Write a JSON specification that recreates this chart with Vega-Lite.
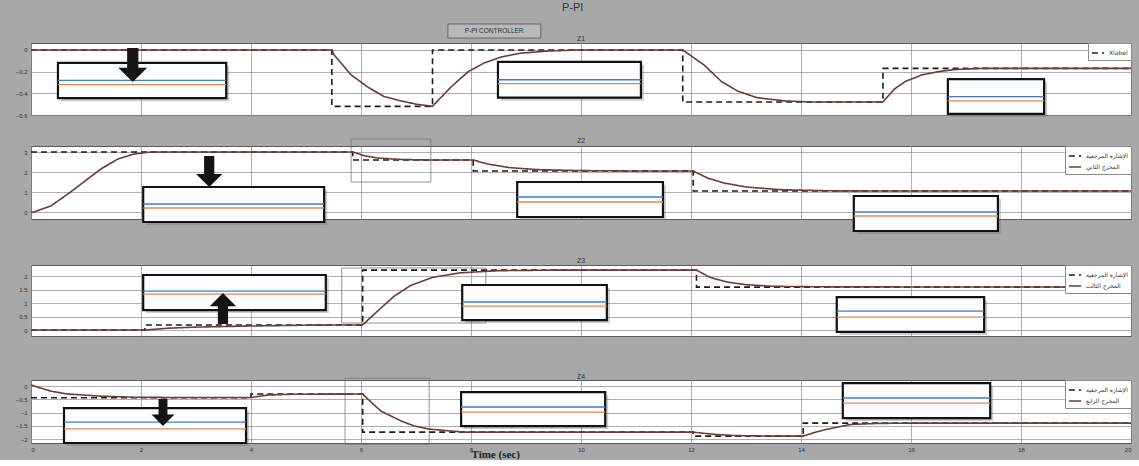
{
"$schema": "https://vega.github.io/schema/vega-lite/v6.json",
"background": "#a8a8a8",
"padding": {"left": 10, "right": 9, "top": 2, "bottom": 0},
"autosize": {"type": "pad"},
"title": {"text": "P-PI", "fontSize": 11, "offset": 10, "anchor": "middle", "color": "#333", "font": "Liberation Sans", "fontWeight": "normal"},
"spacing": 0,
"resolve": {"scale": {"color": "independent", "strokeDash": "independent"}},
"datasets": {
"lines": [
{"p":1,"s":"Xlabel","t":0,"v":0},{"p":1,"s":"Xlabel","t":5.47,"v":0},{"p":1,"s":"Xlabel","t":5.47,"v":-0.52},{"p":1,"s":"Xlabel","t":7.3,"v":-0.52},{"p":1,"s":"Xlabel","t":7.3,"v":0},{"p":1,"s":"Xlabel","t":11.85,"v":0},{"p":1,"s":"Xlabel","t":11.85,"v":-0.48},{"p":1,"s":"Xlabel","t":15.49,"v":-0.48},{"p":1,"s":"Xlabel","t":15.49,"v":-0.17},{"p":1,"s":"Xlabel","t":20,"v":-0.17},
{"p":1,"s":"المخرج الأول","t":0,"v":0},{"p":1,"s":"المخرج الأول","t":5.47,"v":0},{"p":1,"s":"المخرج الأول","t":5.51,"v":-0.045},{"p":1,"s":"المخرج الأول","t":5.82,"v":-0.23},{"p":1,"s":"المخرج الأول","t":6.13,"v":-0.345},{"p":1,"s":"المخرج الأول","t":6.42,"v":-0.43},{"p":1,"s":"المخرج الأول","t":6.73,"v":-0.47},{"p":1,"s":"المخرج الأول","t":7.0,"v":-0.5},{"p":1,"s":"المخرج الأول","t":7.3,"v":-0.52},{"p":1,"s":"المخرج الأول","t":7.64,"v":-0.34},{"p":1,"s":"المخرج الأول","t":7.95,"v":-0.2},{"p":1,"s":"المخرج الأول","t":8.24,"v":-0.12},{"p":1,"s":"المخرج الأول","t":8.55,"v":-0.065},{"p":1,"s":"المخرج الأول","t":8.9,"v":-0.03},{"p":1,"s":"المخرج الأول","t":9.4,"v":-0.01},{"p":1,"s":"المخرج الأول","t":10,"v":0},{"p":1,"s":"المخرج الأول","t":11.85,"v":0},{"p":1,"s":"المخرج الأول","t":12.24,"v":-0.14},{"p":1,"s":"المخرج الأول","t":12.55,"v":-0.29},{"p":1,"s":"المخرج الأول","t":12.85,"v":-0.38},{"p":1,"s":"المخرج الأول","t":13.2,"v":-0.44},{"p":1,"s":"المخرج الأول","t":13.7,"v":-0.47},{"p":1,"s":"المخرج الأول","t":14.2,"v":-0.48},{"p":1,"s":"المخرج الأول","t":15.49,"v":-0.48},{"p":1,"s":"المخرج الأول","t":15.7,"v":-0.36},{"p":1,"s":"المخرج الأول","t":15.9,"v":-0.29},{"p":1,"s":"المخرج الأول","t":16.2,"v":-0.23},{"p":1,"s":"المخرج الأول","t":16.5,"v":-0.2},{"p":1,"s":"المخرج الأول","t":16.8,"v":-0.18},{"p":1,"s":"المخرج الأول","t":17.3,"v":-0.17},{"p":1,"s":"المخرج الأول","t":20,"v":-0.17},
{"p":2,"s":"الإشارة المرجعية","t":0,"v":3},{"p":2,"s":"الإشارة المرجعية","t":5.85,"v":3},{"p":2,"s":"الإشارة المرجعية","t":5.85,"v":2.6},{"p":2,"s":"الإشارة المرجعية","t":8.04,"v":2.6},{"p":2,"s":"الإشارة المرجعية","t":8.04,"v":2.05},{"p":2,"s":"الإشارة المرجعية","t":12.04,"v":2.05},{"p":2,"s":"الإشارة المرجعية","t":12.04,"v":1.05},{"p":2,"s":"الإشارة المرجعية","t":20,"v":1.05},
{"p":2,"s":"المخرج الثاني","t":0,"v":0},{"p":2,"s":"المخرج الثاني","t":0.05,"v":0},{"p":2,"s":"المخرج الثاني","t":0.36,"v":0.3},{"p":2,"s":"المخرج الثاني","t":0.67,"v":0.9},{"p":2,"s":"المخرج الثاني","t":0.96,"v":1.5},{"p":2,"s":"المخرج الثاني","t":1.27,"v":2.15},{"p":2,"s":"المخرج الثاني","t":1.58,"v":2.65},{"p":2,"s":"المخرج الثاني","t":1.87,"v":2.9},{"p":2,"s":"المخرج الثاني","t":2.18,"v":3},{"p":2,"s":"المخرج الثاني","t":5.85,"v":3},{"p":2,"s":"المخرج الثاني","t":6.05,"v":2.82},{"p":2,"s":"المخرج الثاني","t":6.3,"v":2.7},{"p":2,"s":"المخرج الثاني","t":6.7,"v":2.63},{"p":2,"s":"المخرج الثاني","t":7.2,"v":2.6},{"p":2,"s":"المخرج الثاني","t":8.04,"v":2.6},{"p":2,"s":"المخرج الثاني","t":8.3,"v":2.4},{"p":2,"s":"المخرج الثاني","t":8.7,"v":2.22},{"p":2,"s":"المخرج الثاني","t":9.2,"v":2.12},{"p":2,"s":"المخرج الثاني","t":10,"v":2.07},{"p":2,"s":"المخرج الثاني","t":11,"v":2.05},{"p":2,"s":"المخرج الثاني","t":12.04,"v":2.05},{"p":2,"s":"المخرج الثاني","t":12.3,"v":1.7},{"p":2,"s":"المخرج الثاني","t":12.6,"v":1.45},{"p":2,"s":"المخرج الثاني","t":13,"v":1.25},{"p":2,"s":"المخرج الثاني","t":13.6,"v":1.12},{"p":2,"s":"المخرج الثاني","t":14.5,"v":1.06},{"p":2,"s":"المخرج الثاني","t":15.5,"v":1.05},{"p":2,"s":"المخرج الثاني","t":20,"v":1.05},
{"p":3,"s":"الإشارة المرجعية","t":0,"v":0},{"p":3,"s":"الإشارة المرجعية","t":2.07,"v":0},{"p":3,"s":"الإشارة المرجعية","t":2.07,"v":0.19},{"p":3,"s":"الإشارة المرجعية","t":6.03,"v":0.19},{"p":3,"s":"الإشارة المرجعية","t":6.03,"v":2.22},{"p":3,"s":"الإشارة المرجعية","t":12.1,"v":2.22},{"p":3,"s":"الإشارة المرجعية","t":12.1,"v":1.59},{"p":3,"s":"الإشارة المرجعية","t":20,"v":1.59},
{"p":3,"s":"المخرج الثالث","t":0,"v":0},{"p":3,"s":"المخرج الثالث","t":2.07,"v":0},{"p":3,"s":"المخرج الثالث","t":2.5,"v":0.07},{"p":3,"s":"المخرج الثالث","t":3,"v":0.11},{"p":3,"s":"المخرج الثالث","t":4,"v":0.15},{"p":3,"s":"المخرج الثالث","t":5,"v":0.18},{"p":3,"s":"المخرج الثالث","t":6.03,"v":0.19},{"p":3,"s":"المخرج الثالث","t":6.3,"v":0.7},{"p":3,"s":"المخرج الثالث","t":6.6,"v":1.25},{"p":3,"s":"المخرج الثالث","t":6.9,"v":1.65},{"p":3,"s":"المخرج الثالث","t":7.3,"v":1.95},{"p":3,"s":"المخرج الثالث","t":7.8,"v":2.12},{"p":3,"s":"المخرج الثالث","t":8.5,"v":2.2},{"p":3,"s":"المخرج الثالث","t":9.5,"v":2.22},{"p":3,"s":"المخرج الثالث","t":12.1,"v":2.22},{"p":3,"s":"المخرج الثالث","t":12.35,"v":1.95},{"p":3,"s":"المخرج الثالث","t":12.65,"v":1.78},{"p":3,"s":"المخرج الثالث","t":13,"v":1.68},{"p":3,"s":"المخرج الثالث","t":13.5,"v":1.62},{"p":3,"s":"المخرج الثالث","t":14.5,"v":1.6},{"p":3,"s":"المخرج الثالث","t":20,"v":1.59},
{"p":4,"s":"الإشارة المرجعية","t":0,"v":-0.44},{"p":4,"s":"الإشارة المرجعية","t":4,"v":-0.44},{"p":4,"s":"الإشارة المرجعية","t":4,"v":-0.3},{"p":4,"s":"الإشارة المرجعية","t":6.03,"v":-0.3},{"p":4,"s":"الإشارة المرجعية","t":6.03,"v":-1.74},{"p":4,"s":"الإشارة المرجعية","t":12.04,"v":-1.74},{"p":4,"s":"الإشارة المرجعية","t":12.04,"v":-1.89},{"p":4,"s":"الإشارة المرجعية","t":14.04,"v":-1.89},{"p":4,"s":"الإشارة المرجعية","t":14.04,"v":-1.4},{"p":4,"s":"الإشارة المرجعية","t":20,"v":-1.4},
{"p":4,"s":"المخرج الرابع","t":0,"v":0.04},{"p":4,"s":"المخرج الرابع","t":0.36,"v":-0.19},{"p":4,"s":"المخرج الرابع","t":0.67,"v":-0.3},{"p":4,"s":"المخرج الرابع","t":1.27,"v":-0.38},{"p":4,"s":"المخرج الرابع","t":1.87,"v":-0.42},{"p":4,"s":"المخرج الرابع","t":2.5,"v":-0.43},{"p":4,"s":"المخرج الرابع","t":4,"v":-0.43},{"p":4,"s":"المخرج الرابع","t":4.3,"v":-0.34},{"p":4,"s":"المخرج الرابع","t":4.7,"v":-0.31},{"p":4,"s":"المخرج الرابع","t":6.03,"v":-0.3},{"p":4,"s":"المخرج الرابع","t":6.18,"v":-0.6},{"p":4,"s":"المخرج الرابع","t":6.36,"v":-0.94},{"p":4,"s":"المخرج الرابع","t":6.73,"v":-1.32},{"p":4,"s":"المخرج الرابع","t":6.96,"v":-1.5},{"p":4,"s":"المخرج الرابع","t":7.22,"v":-1.62},{"p":4,"s":"المخرج الرابع","t":7.87,"v":-1.74},{"p":4,"s":"المخرج الرابع","t":12.04,"v":-1.74},{"p":4,"s":"المخرج الرابع","t":12.4,"v":-1.82},{"p":4,"s":"المخرج الرابع","t":12.8,"v":-1.87},{"p":4,"s":"المخرج الرابع","t":13.5,"v":-1.89},{"p":4,"s":"المخرج الرابع","t":14.04,"v":-1.89},{"p":4,"s":"المخرج الرابع","t":14.25,"v":-1.75},{"p":4,"s":"المخرج الرابع","t":14.5,"v":-1.62},{"p":4,"s":"المخرج الرابع","t":14.9,"v":-1.45},{"p":4,"s":"المخرج الرابع","t":15.4,"v":-1.41},{"p":4,"s":"المخرج الرابع","t":16,"v":-1.4},{"p":4,"s":"المخرج الرابع","t":20,"v":-1.4}
],
"ins": [
{"p":1,"t":0.49,"t2":3.55,"v":-0.12,"v2":-0.445},{"p":1,"t":8.49,"t2":11.09,"v":-0.11,"v2":-0.44},{"p":1,"t":16.67,"t2":18.42,"v":-0.27,"v2":-0.59},
{"p":2,"t":2.04,"t2":5.33,"v":1.25,"v2":-0.5},{"p":2,"t":8.84,"t2":11.49,"v":1.5,"v2":-0.25},{"p":2,"t":14.96,"t2":17.58,"v":0.8,"v2":-0.95},
{"p":3,"t":2.04,"t2":5.36,"v":2.04,"v2":0.74},{"p":3,"t":7.84,"t2":10.47,"v":1.67,"v2":0.37},{"p":3,"t":14.65,"t2":17.33,"v":1.22,"v2":-0.07},
{"p":4,"t":0.6,"t2":3.91,"v":-0.83,"v2":-2.15},{"p":4,"t":7.82,"t2":10.44,"v":-0.23,"v2":-1.51},{"p":4,"t":14.76,"t2":17.44,"v":0.11,"v2":-1.21}
],
"hl": [
{"p":1,"k":"b","t":0.49,"t2":3.55,"v":-0.28},{"p":1,"k":"o","t":0.49,"t2":3.55,"v":-0.32},
{"p":1,"k":"b","t":8.49,"t2":11.09,"v":-0.275},{"p":1,"k":"o","t":8.49,"t2":11.09,"v":-0.31},
{"p":1,"k":"b","t":16.67,"t2":18.42,"v":-0.43},{"p":1,"k":"o","t":16.67,"t2":18.42,"v":-0.47},
{"p":2,"k":"b","t":2.04,"t2":5.33,"v":0.4},{"p":2,"k":"o","t":2.04,"t2":5.33,"v":0.2},
{"p":2,"k":"b","t":8.84,"t2":11.49,"v":0.75},{"p":2,"k":"o","t":8.84,"t2":11.49,"v":0.5},
{"p":2,"k":"b","t":14.96,"t2":17.58,"v":0.0},{"p":2,"k":"o","t":14.96,"t2":17.58,"v":-0.2},
{"p":3,"k":"b","t":2.04,"t2":5.36,"v":1.44},{"p":3,"k":"o","t":2.04,"t2":5.36,"v":1.33},
{"p":3,"k":"b","t":7.84,"t2":10.47,"v":1.04},{"p":3,"k":"o","t":7.84,"t2":10.47,"v":0.89},
{"p":3,"k":"b","t":14.65,"t2":17.33,"v":0.7},{"p":3,"k":"o","t":14.65,"t2":17.33,"v":0.48},
{"p":4,"k":"b","t":0.6,"t2":3.91,"v":-1.36},{"p":4,"k":"o","t":0.6,"t2":3.91,"v":-1.62},
{"p":4,"k":"b","t":7.82,"t2":10.44,"v":-0.79},{"p":4,"k":"o","t":7.82,"t2":10.44,"v":-0.98},
{"p":4,"k":"b","t":14.76,"t2":17.44,"v":-0.45},{"p":4,"k":"o","t":14.76,"t2":17.44,"v":-0.64}
],
"zr": [
{"p":2,"t":5.82,"t2":7.27,"v":3.65,"v2":1.5},
{"p":3,"t":5.65,"t2":8.27,"v":2.3,"v2":0.26},
{"p":4,"t":5.71,"t2":7.24,"v":0.3,"v2":-2.2}
],
"arrows": [
{"p":1,"t":1.85,"v":-0.14},{"p":2,"t":3.24,"v":2.02},{"p":3,"t":3.49,"v":0.8},{"p":4,"t":2.4,"v":-1.0}
],
"ctl": [{"t":7.58,"t2":9.27,"v":0.239,"v2":0.11}],
"ctltext": [{"t":8.42,"v":0.175,"label":"P-PI CONTROLLER"}]
},
"vconcat": [
{
"title": {"text": "Z1", "offset": -18},
"width": 1100, "height": 72,
"encoding": {
"x": {"field": "t", "type": "quantitative", "scale": {"domain": [0, 20], "nice": false, "zero": false}, "axis": {"values": [0,2,4,6,8,10,12,14,16,18,20], "labelOpacity": 0, "minExtent": 20, "maxExtent": 20, "title": null}},
"y": {"field": "v", "type": "quantitative", "scale": {"domain": [-0.6, 0.064], "nice": false, "zero": false}, "axis": {"values": [0, -0.2, -0.4, -0.6], "format": "~g", "title": null}}
},
"layer": [
{"data": {"name": "ctl"}, "mark": {"type": "rect", "fill": "#b9b9b9", "stroke": "#555", "strokeWidth": 0.8, "clip": false}, "encoding": {"x2": {"field": "t2"}, "y2": {"field": "v2"}}},
{"data": {"name": "ctltext"}, "mark": {"type": "text", "fontSize": 6.5, "font": "Liberation Sans", "color": "#333", "clip": false}, "encoding": {"text": {"field": "label"}}},
{"data": {"name": "lines"}, "transform": [{"filter": "datum.p==1"}], "mark": {"type": "line", "strokeWidth": 1.6, "clip": false},
 "encoding": {
  "color": {"field": "s", "type": "nominal", "scale": {"domain": ["Xlabel", "المخرج الأول"], "range": ["#1c1c1c", "#6e3a3a"]}, "legend": {"values": ["Xlabel"], "title": null}},
  "strokeDash": {"field": "s", "type": "nominal", "scale": {"domain": ["Xlabel", "المخرج الأول"], "range": [[6, 4], [1, 0]]}, "legend": {"values": ["Xlabel"], "title": null}},
  "order": {"value": null}}},
{"data": {"name": "ins"}, "transform": [{"filter": "datum.p==1"}], "mark": {"type": "rect", "fill": "#6f6f6f", "opacity": 0.35, "xOffset": 3, "x2Offset": 3, "yOffset": 3, "y2Offset": 3, "clip": false}, "encoding": {"x2": {"field": "t2"}, "y2": {"field": "v2"}}},
{"data": {"name": "ins"}, "transform": [{"filter": "datum.p==1"}], "mark": {"type": "rect", "fill": "#fbfdff", "stroke": "#111", "strokeWidth": 2.2, "clip": false}, "encoding": {"x2": {"field": "t2"}, "y2": {"field": "v2"}}},
{"data": {"name": "hl"}, "transform": [{"filter": "datum.p==1 && datum.k=='b'"}], "mark": {"type": "rule", "color": "#3d7cc9", "strokeWidth": 1.3, "clip": false}, "encoding": {"x2": {"field": "t2"}}},
{"data": {"name": "hl"}, "transform": [{"filter": "datum.p==1 && datum.k=='o'"}], "mark": {"type": "rule", "color": "#e8874a", "strokeWidth": 1.3, "clip": false}, "encoding": {"x2": {"field": "t2"}}},
{"data": {"name": "arrows"}, "transform": [{"filter": "datum.p==1"}], "mark": {"type": "point", "shape": "M-0.33,-1L0.33,-1L0.33,0.15L0.85,0.15L0,1L-0.85,0.15L-0.33,0.15Z", "filled": true, "color": "#141414", "opacity": 1, "size": 1156, "clip": false}}
]
},
{
"title": {"text": "Z2", "offset": -5},
"width": 1100, "height": 73,
"encoding": {
"x": {"field": "t", "type": "quantitative", "scale": {"domain": [0, 20], "nice": false, "zero": false}, "axis": {"values": [0,2,4,6,8,10,12,14,16,18,20], "labelOpacity": 0, "minExtent": 36, "maxExtent": 36, "title": null}},
"y": {"field": "v", "type": "quantitative", "scale": {"domain": [-0.35, 3.3], "nice": false, "zero": false}, "axis": {"values": [0, 1, 2, 3], "format": "~g", "title": null}}
},
"layer": [
{"data": {"name": "zr"}, "transform": [{"filter": "datum.p==2"}], "mark": {"type": "rect", "fillOpacity": 0, "stroke": "#777", "strokeWidth": 0.8, "clip": false}, "encoding": {"x2": {"field": "t2"}, "y2": {"field": "v2"}}},
{"data": {"name": "lines"}, "transform": [{"filter": "datum.p==2"}], "mark": {"type": "line", "strokeWidth": 1.6, "clip": false},
 "encoding": {
  "color": {"field": "s", "type": "nominal", "scale": {"domain": ["الإشارة المرجعية", "المخرج الثاني"], "range": ["#1c1c1c", "#6e3a3a"]}, "legend": {"title": null}},
  "strokeDash": {"field": "s", "type": "nominal", "scale": {"domain": ["الإشارة المرجعية", "المخرج الثاني"], "range": [[6, 4], [1, 0]]}, "legend": {"title": null}},
  "order": {"value": null}}},
{"data": {"name": "ins"}, "transform": [{"filter": "datum.p==2"}], "mark": {"type": "rect", "fill": "#6f6f6f", "opacity": 0.35, "xOffset": 3, "x2Offset": 3, "yOffset": 3, "y2Offset": 3, "clip": false}, "encoding": {"x2": {"field": "t2"}, "y2": {"field": "v2"}}},
{"data": {"name": "ins"}, "transform": [{"filter": "datum.p==2"}], "mark": {"type": "rect", "fill": "#fbfdff", "stroke": "#111", "strokeWidth": 2.2, "clip": false}, "encoding": {"x2": {"field": "t2"}, "y2": {"field": "v2"}}},
{"data": {"name": "hl"}, "transform": [{"filter": "datum.p==2 && datum.k=='b'"}], "mark": {"type": "rule", "color": "#3d7cc9", "strokeWidth": 1.3, "clip": false}, "encoding": {"x2": {"field": "t2"}}},
{"data": {"name": "hl"}, "transform": [{"filter": "datum.p==2 && datum.k=='o'"}], "mark": {"type": "rule", "color": "#e8874a", "strokeWidth": 1.3, "clip": false}, "encoding": {"x2": {"field": "t2"}}},
{"data": {"name": "arrows"}, "transform": [{"filter": "datum.p==2"}], "mark": {"type": "point", "shape": "M-0.33,-1L0.33,-1L0.33,0.15L0.85,0.15L0,1L-0.85,0.15L-0.33,0.15Z", "filled": true, "color": "#141414", "opacity": 1, "size": 961, "clip": false}}
]
},
{
"title": {"text": "Z3", "offset": 1},
"width": 1100, "height": 71,
"encoding": {
"x": {"field": "t", "type": "quantitative", "scale": {"domain": [0, 20], "nice": false, "zero": false}, "axis": {"values": [0,2,4,6,8,10,12,14,16,18,20], "labelOpacity": 0, "minExtent": 35, "maxExtent": 35, "title": null}},
"y": {"field": "v", "type": "quantitative", "scale": {"domain": [-0.22, 2.41], "nice": false, "zero": false}, "axis": {"values": [0, 0.5, 1, 1.5, 2], "format": "~g", "title": null}}
},
"layer": [
{"data": {"name": "zr"}, "transform": [{"filter": "datum.p==3"}], "mark": {"type": "rect", "fillOpacity": 0, "stroke": "#777", "strokeWidth": 0.8, "clip": false}, "encoding": {"x2": {"field": "t2"}, "y2": {"field": "v2"}}},
{"data": {"name": "lines"}, "transform": [{"filter": "datum.p==3"}], "mark": {"type": "line", "strokeWidth": 1.6, "clip": false},
 "encoding": {
  "color": {"field": "s", "type": "nominal", "scale": {"domain": ["الإشارة المرجعية", "المخرج الثالث"], "range": ["#1c1c1c", "#6e3a3a"]}, "legend": {"title": null}},
  "strokeDash": {"field": "s", "type": "nominal", "scale": {"domain": ["الإشارة المرجعية", "المخرج الثالث"], "range": [[6, 4], [1, 0]]}, "legend": {"title": null}},
  "order": {"value": null}}},
{"data": {"name": "ins"}, "transform": [{"filter": "datum.p==3"}], "mark": {"type": "rect", "fill": "#6f6f6f", "opacity": 0.35, "xOffset": 3, "x2Offset": 3, "yOffset": 3, "y2Offset": 3, "clip": false}, "encoding": {"x2": {"field": "t2"}, "y2": {"field": "v2"}}},
{"data": {"name": "ins"}, "transform": [{"filter": "datum.p==3"}], "mark": {"type": "rect", "fill": "#fbfdff", "stroke": "#111", "strokeWidth": 2.2, "clip": false}, "encoding": {"x2": {"field": "t2"}, "y2": {"field": "v2"}}},
{"data": {"name": "hl"}, "transform": [{"filter": "datum.p==3 && datum.k=='b'"}], "mark": {"type": "rule", "color": "#3d7cc9", "strokeWidth": 1.3, "clip": false}, "encoding": {"x2": {"field": "t2"}}},
{"data": {"name": "hl"}, "transform": [{"filter": "datum.p==3 && datum.k=='o'"}], "mark": {"type": "rule", "color": "#e8874a", "strokeWidth": 1.3, "clip": false}, "encoding": {"x2": {"field": "t2"}}},
{"data": {"name": "arrows"}, "transform": [{"filter": "datum.p==3"}], "mark": {"type": "point", "shape": "M-0.33,1L0.33,1L0.33,-0.15L0.85,-0.15L0,-1L-0.85,-0.15L-0.33,-0.15Z", "filled": true, "color": "#141414", "opacity": 1, "size": 961, "clip": false}}
]
},
{
"title": {"text": "Z4", "offset": -2},
"width": 1100, "height": 63,
"encoding": {
"x": {"field": "t", "type": "quantitative", "scale": {"domain": [0, 20], "nice": false, "zero": false}, "axis": {"values": [0,2,4,6,8,10,12,14,16,18,20], "labelPadding": 3, "title": "Time (sec)", "titleFont": "Liberation Serif", "titleFontSize": 11, "titleFontWeight": "bold", "titleColor": "#222", "titleX": 440, "titleY": 11, "titleAlign": "left", "titleBaseline": "middle"}},
"y": {"field": "v", "type": "quantitative", "scale": {"domain": [-2.15, 0.23], "nice": false, "zero": false}, "axis": {"values": [0, -0.5, -1, -1.5, -2], "format": "~g", "title": null}}
},
"layer": [
{"data": {"name": "zr"}, "transform": [{"filter": "datum.p==4"}], "mark": {"type": "rect", "fillOpacity": 0, "stroke": "#777", "strokeWidth": 0.8, "clip": false}, "encoding": {"x2": {"field": "t2"}, "y2": {"field": "v2"}}},
{"data": {"name": "lines"}, "transform": [{"filter": "datum.p==4"}], "mark": {"type": "line", "strokeWidth": 1.6, "clip": false},
 "encoding": {
  "color": {"field": "s", "type": "nominal", "scale": {"domain": ["الإشارة المرجعية", "المخرج الرابع"], "range": ["#1c1c1c", "#6e3a3a"]}, "legend": {"title": null}},
  "strokeDash": {"field": "s", "type": "nominal", "scale": {"domain": ["الإشارة المرجعية", "المخرج الرابع"], "range": [[6, 4], [1, 0]]}, "legend": {"title": null}},
  "order": {"value": null}}},
{"data": {"name": "ins"}, "transform": [{"filter": "datum.p==4"}], "mark": {"type": "rect", "fill": "#6f6f6f", "opacity": 0.35, "xOffset": 3, "x2Offset": 3, "yOffset": 3, "y2Offset": 3, "clip": false}, "encoding": {"x2": {"field": "t2"}, "y2": {"field": "v2"}}},
{"data": {"name": "ins"}, "transform": [{"filter": "datum.p==4"}], "mark": {"type": "rect", "fill": "#fbfdff", "stroke": "#111", "strokeWidth": 2.2, "clip": false}, "encoding": {"x2": {"field": "t2"}, "y2": {"field": "v2"}}},
{"data": {"name": "hl"}, "transform": [{"filter": "datum.p==4 && datum.k=='b'"}], "mark": {"type": "rule", "color": "#3d7cc9", "strokeWidth": 1.3, "clip": false}, "encoding": {"x2": {"field": "t2"}}},
{"data": {"name": "hl"}, "transform": [{"filter": "datum.p==4 && datum.k=='o'"}], "mark": {"type": "rule", "color": "#e8874a", "strokeWidth": 1.3, "clip": false}, "encoding": {"x2": {"field": "t2"}}},
{"data": {"name": "arrows"}, "transform": [{"filter": "datum.p==4"}], "mark": {"type": "point", "shape": "M-0.33,-1L0.33,-1L0.33,0.15L0.85,0.15L0,1L-0.85,0.15L-0.33,0.15Z", "filled": true, "color": "#141414", "opacity": 1, "size": 729, "clip": false}}
]
}
],
"config": {
"view": {"fill": "white", "stroke": "#5a5a5a", "strokeWidth": 1},
"axis": {"gridColor": "#8c8c8c", "gridWidth": 0.7, "gridOpacity": 1, "ticks": false, "domain": false, "labelFont": "Liberation Sans", "labelFontSize": 6, "labelColor": "#333"},
"axisY": {"labelPadding": 4, "minExtent": 20, "maxExtent": 20},
"title": {"font": "Liberation Sans", "fontWeight": "normal", "color": "#333", "fontSize": 7},
"legend": {"orient": "top-right", "offset": 0, "fillColor": "white", "strokeColor": "#8a8a8a", "padding": 3, "labelFontSize": 6, "labelFont": "DejaVu Sans", "labelColor": "#333", "symbolType": "stroke", "symbolStrokeWidth": 1.6, "symbolSize": 150, "rowPadding": 0, "labelOffset": 4}
}
}
